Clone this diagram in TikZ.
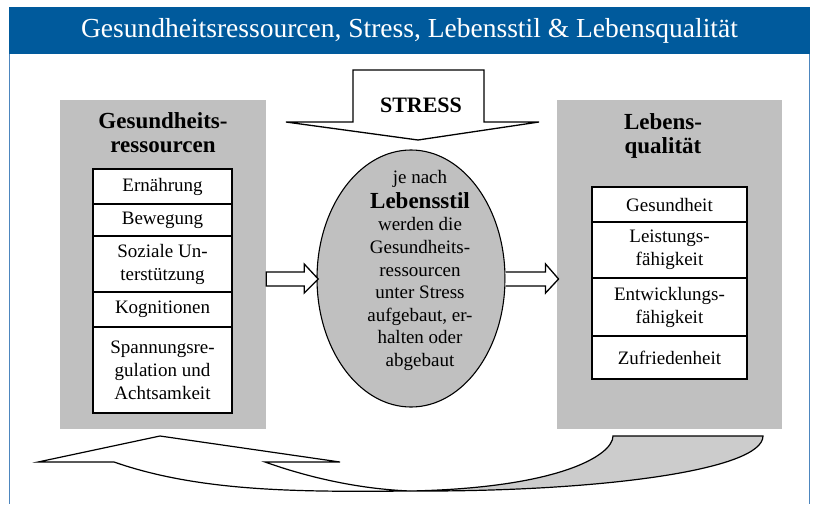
\documentclass[tikz,border=0pt]{standalone}
\usepackage{fontspec}
\setmainfont{Liberation Serif}
\usepackage{tikz}
\usetikzlibrary{positioning,shapes.geometric,calc}
\definecolor{titleblue}{HTML}{005A9C}
\definecolor{frameblue}{HTML}{4D86BE}
\definecolor{panelgray}{HTML}{C0C0C0}
\definecolor{bandgray}{HTML}{CCCCCC}
\tikzset{
  titlebar/.style={rectangle, fill=titleblue, text=white,
    minimum width=801pt, minimum height=47pt, inner sep=0pt,
    font=\fontsize{27.5}{30}\selectfont},
  panelbox/.style={rectangle, fill=panelgray, inner sep=0pt,
    minimum height=329pt},
  headtext/.style={inner sep=0pt, align=center,
    font=\fontsize{23}{24}\selectfont\bfseries},
  itembox/.style={rectangle, draw=black, fill=white, line width=1.2pt,
    minimum width=#1, inner sep=2pt, outer sep=0pt, align=center,
    font=\fontsize{19}{23}\selectfont},
  itembox/.default=139pt,
  ovalbox/.style={ellipse, draw=black, fill=panelgray, line width=1.1pt,
    minimum width=188pt, minimum height=257pt, inner sep=0pt},
  ovaltext/.style={inner sep=0pt, align=center,
    font=\fontsize{19}{22.6}\selectfont},
  blockarrow/.style={draw=black, fill=white, line width=1.3pt,
    line join=miter},
  bandpath/.style={draw=black, line width=1.2pt, line join=miter},
}
\begin{document}
\begin{tikzpicture}[x=1pt, y=-1pt]
\useasboundingbox (0,0) rectangle (816,504);
\node[titlebar] (title) at (409.5,30.5)
  {Gesundheitsressourcen, Stress, Lebensstil \& Lebensqualität};
\draw[frameblue, line width=1.2pt] ([xshift=0.6pt]title.south west) -- ++(0,450);
\draw[frameblue, line width=1.2pt] ([xshift=-0.6pt]title.south east) -- ++(0,450);

\node[panelbox, minimum width=206pt] (resPanel) at (163,264.5) {};
\node[panelbox, minimum width=225pt] (lqPanel) at (669.5,264.5) {};
\node[headtext] (resHead) at (163,133) {Gesundheits-\\ressourcen};
\node[headtext] (lqHead) at (663,136) {Lebens-\\qualität};

\node[itembox, minimum height=35pt, anchor=north] (ern) at (162.5,169) {Ernährung};
\node[itembox, minimum height=32pt, below=0pt of ern] (bew) {Bewegung};
\node[itembox, minimum height=56pt, below=0pt of bew] (soz) {Soziale Un-\\terstützung};
\node[itembox, minimum height=35pt, below=0pt of soz] (kog) {Kognitionen};
\node[itembox, minimum height=86pt, below=0pt of kog] (spa) {Spannungsre-\\gulation und\\Achtsamkeit};

\node[itembox=155pt, minimum height=35pt, anchor=north] (ges) at (669.5,187) {Gesundheit};
\node[itembox=155pt, minimum height=56pt, below=0pt of ges] (lei) {Leistungs-\\fähigkeit};
\node[itembox=155pt, minimum height=58pt, below=0pt of lei] (ent) {Entwicklungs-\\fähigkeit};
\node[itembox=155pt, minimum height=43pt, below=0pt of ent] (zuf) {Zufriedenheit};

\node[ovalbox] (mid) at (411,278.5) {};
\node[ovaltext] (midText) at (420,270.5) {je nach\\[2pt]{\fontsize{23}{25}\selectfont\bfseries Lebensstil}\\werden die\\Gesundheits-\\ressourcen\\unter Stress\\aufgebaut, er-\\halten oder\\abgebaut};

\draw[blockarrow] (353,70) -- (484,70) -- (484,122) -- (539,122) -- (418,140)
  -- (286,122) -- (353,122) -- cycle;
\node[inner sep=0pt, font=\fontsize{22}{24}\selectfont\bfseries] (stress) at (421,105.7) {STRESS};

\draw[blockarrow] (resPanel.east |- 0,272) -- ++(38,0) -- ++(0,-8) -- ++(14,15)
  -- ++(-14,14) -- ++(0,-7) -- ++(-38,0) -- cycle;
\draw[blockarrow] (mid.east |- 0,272) -- ++(40,0) -- ++(0,-8) -- ++(13,15)
  -- ++(-13,14) -- ++(0,-7) -- ++(-40,0);

\filldraw[bandpath, fill=bandgray] (613,436) -- (763,436)
  .. controls (763,470) and (600,492) .. (410,491)
  .. controls (560,488) and (613,455) .. cycle;
\filldraw[bandpath, fill=white] (114,462) .. controls (200,492) and (300,492) .. (410,491)
  .. controls (360,489) and (310,478) .. (265,462)
  -- (340,462) -- (160,436) -- (38,462) -- cycle;
\end{tikzpicture}
\end{document}
